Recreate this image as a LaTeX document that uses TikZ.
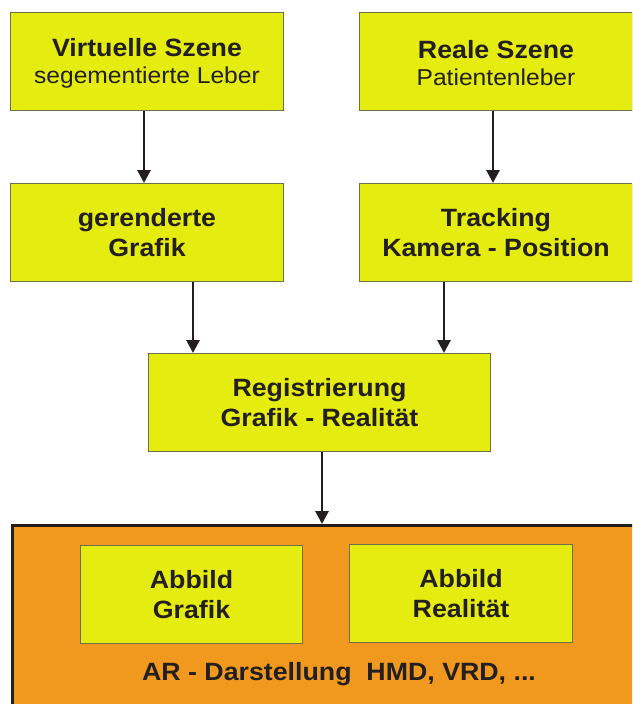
\documentclass[tikz,border=0pt]{standalone}
\usepackage{fontspec}
\setmainfont{Liberation Sans}[FakeStretch=1.07]
\usetikzlibrary{arrows.meta}
\definecolor{ylw}{RGB}{229,236,15}
\definecolor{org}{RGB}{240,153,30}
\definecolor{txt}{RGB}{35,31,32}
\definecolor{bord}{RGB}{110,110,80}
\begin{document}
\begin{tikzpicture}[x=1pt,y=-1pt,
  box/.style={draw=bord, line width=1pt, fill=ylw, inner sep=0pt, anchor=north west,
    text=txt, align=center, font=\fontsize{25}{30}\selectfont\bfseries},
  arr/.style={draw=txt, line width=2.8pt, -{Triangle[length=13pt,width=13pt]}}]
\useasboundingbox (0,0) rectangle (632,704);
\clip (0,0) rectangle (632,704);
\node[box, minimum width=273pt, minimum height=98pt] (virt) at (10,12) {};
\node[text=txt, align=center, inner sep=0pt, font=\fontsize{25}{30}\selectfont\bfseries]
  (virtt) at ([yshift=-2pt]virt.center)
  {Virtuelle Szene\\[-3pt]{\mdseries\fontsize{23}{27}\selectfont segementierte Leber}};
\node[box, minimum width=273pt, minimum height=98pt] (real) at (359,12) {};
\node[text=txt, align=center, inner sep=0pt, font=\fontsize{25}{30}\selectfont\bfseries]
  (realt) at ([yshift=-2pt]real.center)
  {Reale Szene\\[-3pt]{\mdseries\fontsize{23}{27}\selectfont Patientenleber}};
\node[box, minimum width=273pt, minimum height=98pt] (ger) at (10,183)
  {gerenderte\\Grafik};
\node[box, minimum width=273pt, minimum height=98pt] (trk) at (359,183)
  {Tracking\\Kamera - Position};
\node[box, minimum width=342pt, minimum height=98pt] (reg) at (148,353)
  {Registrierung\\Grafik - Realität};
\node[draw=txt, line width=2.5pt, fill=org, anchor=north west, inner sep=0pt,
  minimum width=660pt, minimum height=220pt] (ar) at (11,524) {};
\node[box, minimum width=222pt, minimum height=98pt] (abg) at (80,545)
  {Abbild\\Grafik};
\node[box, minimum width=223pt, minimum height=98pt] (abr) at (349,544)
  {Abbild\\Realität};
\node[anchor=base, inner sep=0pt, text=txt, font=\fontsize{25}{30}\selectfont\bfseries]
  (artext) at (339,680) {AR - Darstellung\ \ HMD, VRD, ...};
\draw[arr] (virt.south -| 144,0) -- (ger.north -| 144,0);
\draw[arr] (real.south -| 493,0) -- (trk.north -| 493,0);
\draw[arr] (ger.south -| 193,0) -- (reg.north -| 193,0);
\draw[arr] (trk.south -| 444,0) -- (reg.north -| 444,0);
\draw[arr] (reg.south -| 322,0) -- (ar.north -| 322,0);
\end{tikzpicture}
\end{document}
